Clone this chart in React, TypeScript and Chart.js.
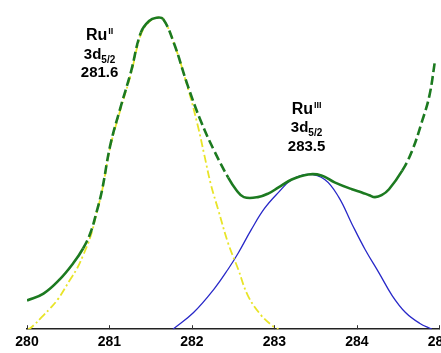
import React, { useEffect, useRef } from "react";
import { Chart, registerables } from "chart.js";

Chart.register(...registerables);

// Binding energy (eV) tick labels
const xTicks = [280, 281, 282, 283, 284, 285];

// Envelope (measured / fitted sum), green
const envelopeX = [280.0, 280.2, 280.4, 280.56, 280.68, 280.77, 280.85, 280.91, 281.01, 281.13, 281.26, 281.38, 281.48, 281.57, 281.65, 281.78, 281.95, 282.11, 282.27, 282.44, 282.54, 282.63, 282.8, 282.93, 283.05, 283.21, 283.41, 283.57, 283.73, 283.94, 284.06, 284.15, 284.22, 284.3, 284.39, 284.55, 284.67, 284.79, 284.88, 284.95];
const envelopeY = [9.1, 11.3, 15.9, 20.9, 25.6, 30.6, 37.8, 44.1, 58.4, 70.0, 81.6, 94.1, 97.8, 98.8, 98.4, 90.9, 77.2, 65.9, 56.6, 48.1, 44.1, 41.9, 41.9, 43.1, 45.0, 47.5, 49.1, 48.8, 46.6, 44.4, 43.4, 42.5, 41.9, 42.5, 44.4, 50.3, 56.6, 65.9, 74.1, 85.6];

// Ru(II) 3d5/2 component, yellow
const ru2X = [280.0, 280.04, 280.2, 280.28, 280.38, 280.52, 280.61, 280.68, 280.77, 280.85, 280.91, 281.01, 281.13, 281.26, 281.38, 281.48, 281.57, 281.65, 281.78, 281.95, 282.07, 282.15, 282.23, 282.32, 282.44, 282.56, 282.68, 282.84, 283.0, 283.05];
const ru2Y = [0, 0.3, 4.4, 6.6, 9.7, 15.6, 19.4, 23.4, 29.4, 37.5, 43.8, 57.8, 69.4, 80.9, 93.4, 97.5, 98.8, 98.4, 90.9, 76.6, 64.7, 55.3, 45.9, 37.8, 27.2, 19.1, 10.6, 4.4, 0.6, 0];

// Ru(III) 3d5/2 component, blue
const ru3X = [281.77, 282.02, 282.27, 282.44, 282.56, 282.72, 282.88, 283.05, 283.21, 283.41, 283.61, 283.78, 283.94, 284.1, 284.27, 284.43, 284.59, 284.76, 284.91];
const ru3Y = [0, 5.3, 12.8, 19.1, 24.1, 31.6, 38.3, 43.4, 47.4, 49.1, 47.5, 41.9, 33.4, 25.3, 17.8, 10.6, 5.3, 1.9, 0];

// Peak annotations
const peakNames = ["Ru", "Ru"];
const peakStates = ["II", "III"];
const peakOrbital = ["3d", "3d"];
const peakSub = ["5/2", "5/2"];
const peakEnergy = ["281.6", "283.5"];

const toPts = (xs: number[], ys: number[]) => xs.map((x, i) => ({ x, y: ys[i] }));

const FONT = "'Liberation Sans', Arial, Helvetica, sans-serif";

const annotationPlugin = {
  id: "peakLabels",
  afterDatasetsDraw(chart: any) {
    const { ctx, scales } = chart;
    const xs = scales.x;
    const ys = scales.y;
    // anchor: [x value of block centre, y value of first baseline]
    const anchors = [
      [280.88, 91.6],
      [283.39, 68.4],
    ];
    ctx.save();
    ctx.fillStyle = "#000";
    ctx.textBaseline = "alphabetic";
    ctx.textAlign = "left";
    anchors.forEach(([ax, ay], i) => {
      const cx = xs.getPixelForValue(ax);
      const by = ys.getPixelForValue(ay);
      // line 1
      ctx.font = `bold 16px ${FONT}`;
      const w1 = ctx.measureText(peakNames[i]).width;
      ctx.font = `bold 9px ${FONT}`;
      const w1s = ctx.measureText(peakStates[i]).width;
      let left = cx - (w1 + 1 + w1s) / 2;
      ctx.font = `bold 16px ${FONT}`;
      ctx.fillText(peakNames[i], left, by);
      ctx.font = `bold 9px ${FONT}`;
      ctx.fillText(peakStates[i], left + w1 + 1, by - 6);
      // line 2
      const b2 = by + 18.5;
      ctx.font = `bold 15px ${FONT}`;
      const w2 = ctx.measureText(peakOrbital[i]).width;
      ctx.font = `bold 10px ${FONT}`;
      const w2s = ctx.measureText(peakSub[i]).width;
      left = cx - (w2 + w2s) / 2;
      ctx.font = `bold 15px ${FONT}`;
      ctx.fillText(peakOrbital[i], left, b2);
      ctx.font = `bold 10px ${FONT}`;
      ctx.fillText(peakSub[i], left + w2, b2 + 4);
      // line 3
      const b3 = by + 37;
      ctx.font = `bold 15px ${FONT}`;
      const w3 = ctx.measureText(peakEnergy[i]).width;
      ctx.fillText(peakEnergy[i], cx - w3 / 2, b3);
    });
    ctx.restore();
  },
};

const innerTicksPlugin = {
  id: "innerTicks",
  afterDraw(chart: any) {
    const { ctx, scales, chartArea } = chart;
    const xs = scales.x;
    ctx.save();
    ctx.strokeStyle = "#333";
    ctx.lineWidth = 1;
    xs.ticks.forEach((_t: any, i: number) => {
      const px = Math.round(xs.getPixelForTick(i)) + 0.5;
      ctx.beginPath();
      ctx.moveTo(px, chartArea.bottom);
      ctx.lineTo(px, chartArea.bottom - 4);
      ctx.stroke();
    });
    ctx.restore();
  },
};

export default function App() {
  const ref = useRef<HTMLCanvasElement | null>(null);

  useEffect(() => {
    if (!ref.current) return;
    const steep = (ctx: any) => {
      const dx = Math.abs(ctx.p1.x - ctx.p0.x) || 0.001;
      const dy = Math.abs(ctx.p1.y - ctx.p0.y);
      return dy / dx > 1.8 ? [9, 4] : [];
    };
    const chart = new Chart(ref.current, {
      type: "line",
      data: {
        datasets: [
          {
            label: "Ru(III)",
            data: toPts(ru3X, ru3Y),
            borderColor: "rgb(40,40,200)",
            borderWidth: 1.3,
            pointRadius: 0,
            tension: 0.4,
            fill: false,
            order: 3,
          },
          {
            label: "Ru(II)",
            data: toPts(ru2X, ru2Y),
            borderColor: "rgb(232,228,40)",
            borderWidth: 1.8,
            borderDash: [8, 3, 2, 3],
            pointRadius: 0,
            tension: 0.4,
            fill: false,
            order: 2,
          },
          {
            label: "Envelope",
            data: toPts(envelopeX, envelopeY),
            borderColor: "rgb(28,122,32)",
            borderWidth: 2.6,
            pointRadius: 0,
            tension: 0.4,
            fill: false,
            order: 1,
            segment: { borderDash: steep },
          } as any,
        ],
      },
      options: {
        animation: false,
        responsive: false,
        layout: { padding: { left: 27, right: 14, top: 14, bottom: 4 } },
        plugins: {
          legend: { display: false },
          tooltip: { enabled: false },
        },
        scales: {
          x: {
            type: "linear",
            min: xTicks[0],
            max: xTicks[xTicks.length - 1],
            afterBuildTicks: (scale: any) => {
              scale.ticks = xTicks.map((v) => ({ value: v }));
            },
            ticks: {
              color: "#000",
              padding: 5,
              font: { family: FONT, size: 14, weight: "bold" },
              callback: (v: any) => String(v),
              maxRotation: 0,
            },
            grid: { display: true, drawOnChartArea: false, drawTicks: false },
            border: { display: true, color: "#222", width: 1.5 },
          },
          y: {
            display: false,
            min: 0,
            max: 100,
          },
        },
      },
      plugins: [annotationPlugin, innerTicksPlugin],
    });
    return () => chart.destroy();
  }, []);

  return (
    <div
      style={{
        position: "fixed",
        left: 0,
        top: 0,
        width: 441,
        height: 353,
        overflow: "hidden",
        background: "#fff",
      }}
    >
      <canvas ref={ref} width={456} height={360} style={{ width: 456, height: 360, display: "block" }} />
    </div>
  );
}
